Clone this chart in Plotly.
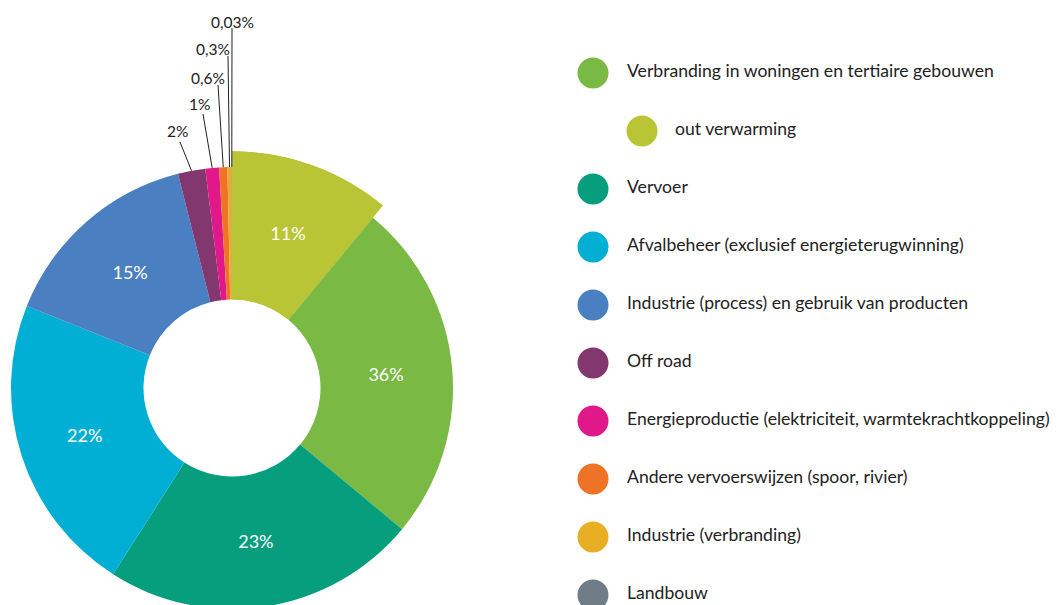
import math
import plotly.graph_objects as go

# ---------------- data ----------------
categories = [
    "Verbranding in woningen en tertiaire gebouwen",
    "out verwarming",
    "Vervoer",
    "Afvalbeheer (exclusief energieterugwinning)",
    "Industrie (process) en gebruik van producten",
    "Off road",
    "Energieproductie (elektriciteit, warmtekrachtkoppeling)",
    "Andere vervoerswijzen (spoor, rivier)",
    "Industrie (verbranding)",
    "Landbouw",
]
shares = [36, 11, 23, 22, 15, 2, 1, 0.6, 0.3, 0.03]   # % as labelled
parent = [None, 0, None, None, None, None, None, None, None, None]  # "out verwarming" is part of Verbranding
colors = ["#7AB943", "#B9C535", "#069E7D", "#00AFD3", "#4A7FC1",
          "#82376E", "#E0188A", "#EE7326", "#E9AF24", "#717D86"]
pie_order = [1, 0, 2, 3, 4, 5, 6, 7, 8, 9]   # clockwise from 12 o'clock
small_slices = [5, 6, 7, 8, 9]               # labelled outside

# ---------------- layout constants (window pixels) ----------------
W, H = 1062, 605
OFF = 8            # page body margin offset
CX, CY = 232 - OFF, 388 - OFF
R = 221
R_BIG = 237
R_HOLE = 88.5
FONT = "Lato"
TXT = "#222222"

small_label_pos = [(177, 131), (199, 104), (207.5, 77.5), (213, 48.5), (232, 21.5)]
small_line_top = [(180, 142), (203, 114), (218, 85), (228, 56), (232, 28)]


def fmt(v):
    return f"{v:g}".replace(".", ",") + "%"


# slice values: the parent slice shows only its remainder
def slice_value(i):
    v = shares[i]
    for j, p in enumerate(parent):
        if p == i:
            v -= shares[j]
    return v


values = [slice_value(i) for i in pie_order]
total = sum(values)
cum = []
acc = 0
for v in values:
    cum.append((acc, acc + v))
    acc += v

fig = go.Figure()

# enlarged slice for "out verwarming" (drawn on a sector polar)
span0 = (cum[0][1] - cum[0][0]) / total * 360
mid0 = (cum[0][0] + cum[0][1]) / 2 / total * 360
a0 = 90 - span0
bw = math.cos(math.radians(a0))
fig.add_trace(go.Barpolar(
    r=[1], theta=[mid0], width=[span0],
    marker=dict(color=colors[pie_order[0]], line=dict(width=0)),
    subplot="polar", hoverinfo="skip", showlegend=False,
))

pie_text = ["" if i in small_slices else fmt(shares[i]) for i in pie_order]
fig.add_trace(go.Pie(
    labels=[categories[i] for i in pie_order],
    values=values,
    text=pie_text,
    texttemplate="%{text}",
    textposition="inside",
    insidetextorientation="horizontal",
    textfont=dict(family=FONT, size=18, color="white"),
    marker=dict(colors=[colors[i] for i in pie_order], line=dict(width=0)),
    hole=R_HOLE / R,
    sort=False,
    direction="clockwise",
    rotation=0,
    domain=dict(x=[(CX - R) / W, (CX + R) / W], y=[(H - CY - R) / H, (H - CY + R) / H]),
    showlegend=False,
    hoverinfo="label+text",
))

# custom legend
row_y = [73 + 58 * k - OFF for k in range(len(categories))]
indent = [0 if p is None else 1 for p in parent]
fig.add_trace(go.Scatter(
    x=[593 - OFF + 49 * d for d in indent], y=row_y, mode="markers",
    marker=dict(size=31, color=colors, line=dict(width=0)),
    hoverinfo="skip", showlegend=False, cliponaxis=False,
))
fig.add_trace(go.Scatter(
    x=[627 - OFF + 48 * d for d in indent], y=row_y, mode="text",
    text=categories, textposition="middle right",
    textfont=dict(family=FONT, size=17.6, color=TXT),
    hoverinfo="skip", showlegend=False, cliponaxis=False,
))

# outside labels for small slices
shapes = []
annotations = []
for k, i in enumerate(small_slices):
    pos = pie_order.index(i)
    ang = math.radians((cum[pos][0] + cum[pos][1]) / 2 / total * 360)
    ex = CX + R * math.sin(ang)
    ey = CY - R * math.cos(ang)
    lx, ly = small_line_top[k]
    shapes.append(dict(type="line", xref="x", yref="y", x0=lx - OFF, y0=ly - OFF, x1=ex, y1=ey,
                       line=dict(color="#222222", width=1)))
    tx, ty = small_label_pos[k]
    annotations.append(dict(x=tx - OFF, y=ty - OFF, xref="x", yref="y", text=fmt(shares[i]),
                            showarrow=False, xanchor="center", yanchor="middle",
                            font=dict(family=FONT, size=15.5, color=TXT)))

fig.update_layout(
    width=W, height=H,
    margin=dict(l=0, r=0, t=0, b=0),
    paper_bgcolor="white", plot_bgcolor="white",
    showlegend=False,
    xaxis=dict(range=[0, W], visible=False, domain=[0, 1], fixedrange=True),
    yaxis=dict(range=[H, 0], visible=False, domain=[0, 1], fixedrange=True),
    polar=dict(
        domain=dict(x=[CX / W, (CX + bw * R_BIG) / W], y=[(H - CY) / H, (H - CY + R_BIG) / H]),
        sector=[a0, 90],
        hole=R_HOLE / R_BIG,
        bgcolor="rgba(0,0,0,0)",
        angularaxis=dict(visible=False, rotation=90, direction="clockwise"),
        radialaxis=dict(visible=False, range=[0, 1]),
    ),
    shapes=shapes,
    annotations=annotations,
)

fig.write_html("out.html")
